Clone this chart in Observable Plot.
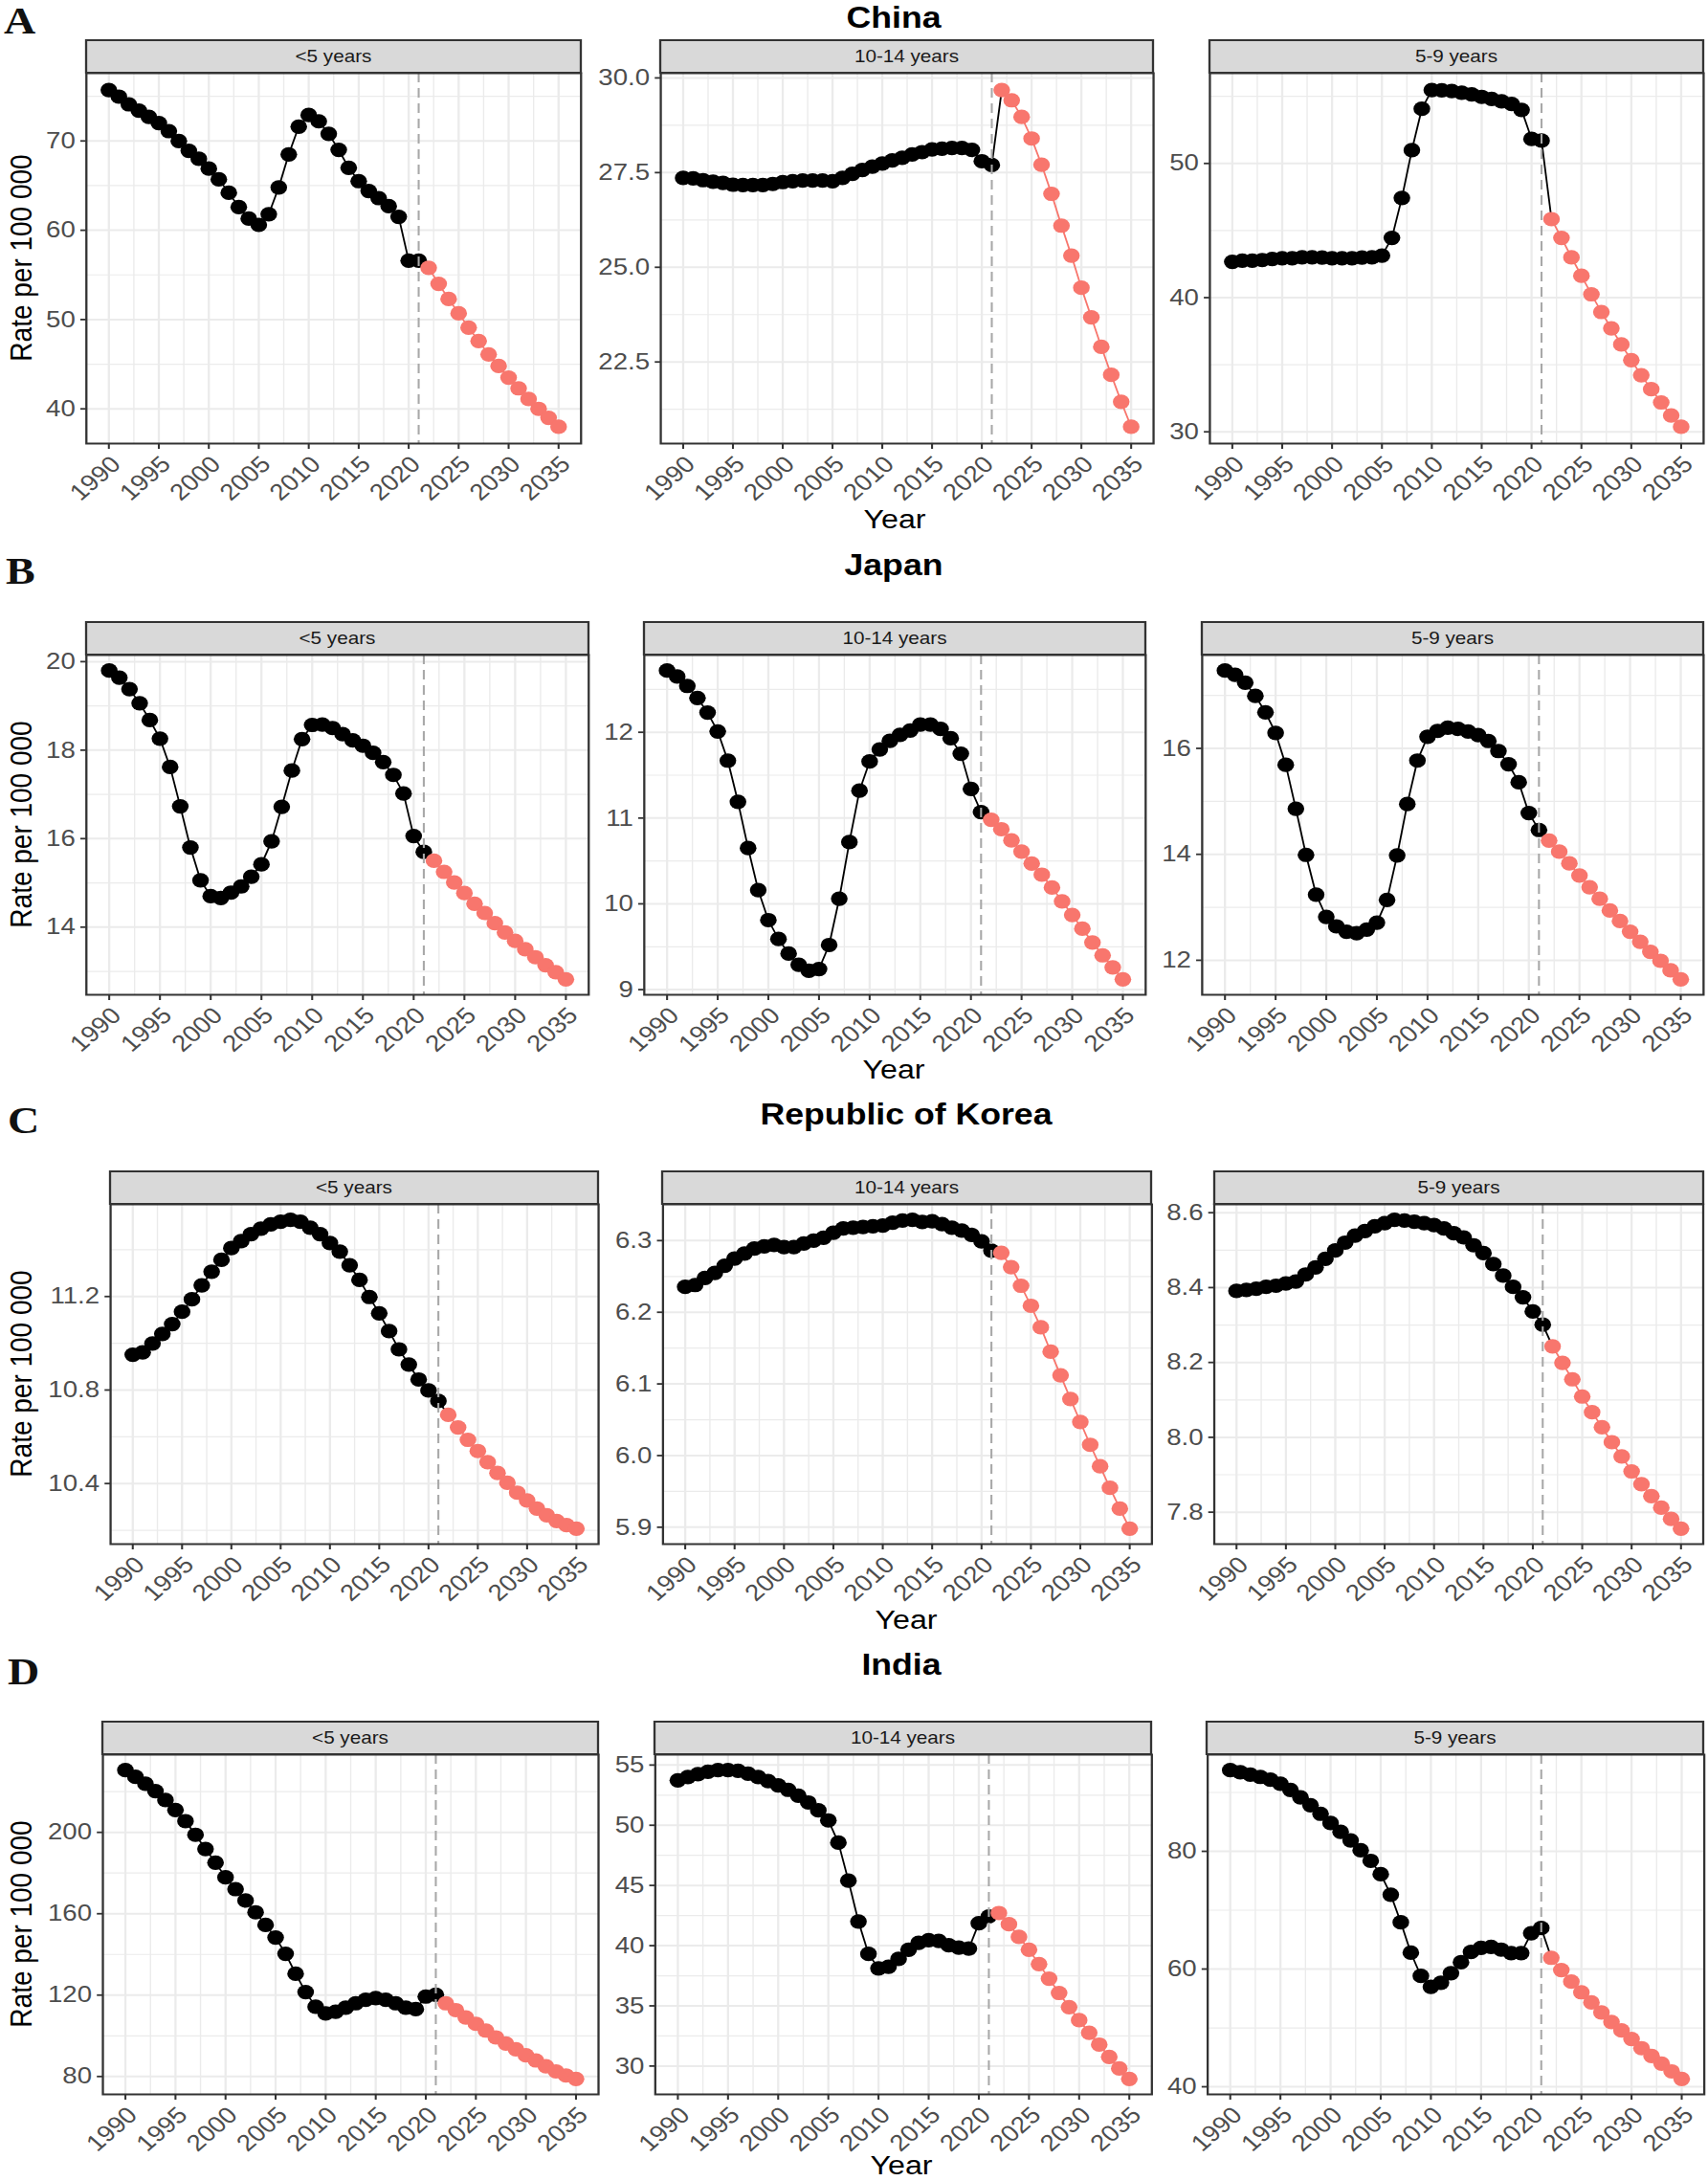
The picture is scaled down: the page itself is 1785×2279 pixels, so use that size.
<!DOCTYPE html>
<html><head><meta charset="utf-8">
<script src="https://cdn.jsdelivr.net/npm/d3@7"></script>
<script src="https://cdn.jsdelivr.net/npm/@observablehq/plot@0.6"></script>
<style>
html,body{margin:0;padding:0;background:#fff;}
body{width:1785px;height:2279px;overflow:hidden;position:relative;}
#root{position:absolute;left:0;top:0;width:1553px;height:2279px;transform:scaleX(1.15);transform-origin:0 0;font-family:"Liberation Sans",Arial,sans-serif;}
.panel{position:absolute;}
#overlay{position:absolute;left:0;top:0;pointer-events:none;}
</style>
</head><body>
<div id="root"></div>
<script>
// ---------- data ----------
const years = [1990,1991,1992,1993,1994,1995,1996,1997,1998,1999,2000,2001,2002,2003,2004,2005,2006,2007,2008,2009,2010,2011,2012,2013,2014,2015,2016,2017,2018,2019,2020,2021,2022,2023,2024,2025,2026,2027,2028,2029,2030,2031,2032,2033,2034,2035];
const lastObservedYear = 2021;
const countries = ["China","Japan","Republic of Korea","India"];
const panelLetters = ["A","B","C","D"];
const ageGroups = ["<5 years","10-14 years","5-9 years"];
const xTicks = [1990,1995,2000,2005,2010,2015,2020,2025,2030,2035];
const xMinor = [1992.5,1997.5,2002.5,2007.5,2012.5,2017.5,2022.5,2027.5,2032.5];

const chinaU5 = [75.7,74.96,74.1,73.4,72.7,72.0,71.1,70.0,68.9,68.0,66.9,65.7,64.2,62.6,61.3,60.6,61.8,64.8,68.5,71.6,72.9,72.2,70.8,69.0,67.0,65.5,64.4,63.6,62.7,61.5,56.6,56.6,55.8,54.0,52.3,50.7,49.1,47.6,46.1,44.8,43.5,42.3,41.1,40.0,39.0,38.0];
const china10_14 = [27.36,27.35,27.30,27.26,27.23,27.18,27.17,27.17,27.17,27.20,27.25,27.27,27.29,27.29,27.29,27.27,27.36,27.47,27.57,27.66,27.74,27.82,27.89,27.98,28.04,28.11,28.13,28.15,28.15,28.10,27.80,27.70,29.68,29.41,28.97,28.40,27.71,26.94,26.10,25.31,24.46,23.68,22.90,22.16,21.45,20.79];
const china5_9 = [42.67,42.75,42.75,42.80,42.88,42.93,42.93,43.0,43.0,42.98,42.93,42.93,42.93,42.98,43.0,43.13,44.45,47.43,50.99,54.07,55.47,55.45,55.39,55.27,55.14,54.96,54.81,54.63,54.43,53.99,51.83,51.70,45.85,44.45,43.00,41.63,40.25,38.93,37.71,36.51,35.34,34.22,33.18,32.19,31.22,30.38];
const japanU5 = [19.80,19.64,19.38,19.06,18.68,18.26,17.62,16.73,15.80,15.06,14.70,14.66,14.78,14.92,15.14,15.42,15.94,16.72,17.54,18.25,18.57,18.58,18.50,18.36,18.22,18.10,17.94,17.73,17.44,17.02,16.06,15.70,15.50,15.25,15.01,14.77,14.53,14.32,14.09,13.88,13.69,13.50,13.32,13.14,12.98,12.82];
const japan10_14 = [12.72,12.65,12.54,12.40,12.23,12.01,11.67,11.19,10.65,10.16,9.81,9.59,9.42,9.29,9.22,9.24,9.52,10.06,10.72,11.32,11.66,11.80,11.90,11.97,12.02,12.09,12.09,12.04,11.93,11.75,11.34,11.07,10.98,10.87,10.74,10.61,10.47,10.34,10.19,10.03,9.87,9.71,9.55,9.40,9.26,9.12];
const japan5_9 = [17.47,17.39,17.24,16.99,16.68,16.29,15.69,14.86,13.99,13.24,12.82,12.64,12.54,12.51,12.58,12.71,13.14,13.98,14.95,15.77,16.22,16.33,16.39,16.37,16.32,16.25,16.14,15.95,15.70,15.36,14.78,14.46,14.26,14.05,13.83,13.60,13.38,13.16,12.94,12.74,12.54,12.35,12.16,11.99,11.81,11.64];
const koreaU5 = [10.951,10.961,10.999,11.040,11.082,11.135,11.188,11.248,11.306,11.357,11.407,11.437,11.467,11.490,11.509,11.520,11.528,11.520,11.494,11.467,11.429,11.392,11.334,11.271,11.198,11.128,11.052,10.974,10.909,10.845,10.798,10.753,10.694,10.640,10.587,10.539,10.491,10.445,10.403,10.361,10.328,10.293,10.264,10.240,10.222,10.207];
const korea10_14 = [6.2355,6.238,6.248,6.255,6.265,6.275,6.282,6.289,6.292,6.294,6.291,6.291,6.296,6.300,6.304,6.311,6.317,6.318,6.319,6.320,6.321,6.325,6.328,6.329,6.326,6.327,6.323,6.318,6.314,6.308,6.299,6.286,6.283,6.263,6.237,6.209,6.179,6.145,6.112,6.079,6.047,6.015,5.985,5.955,5.926,5.898];
const korea5_9 = [8.391,8.394,8.397,8.402,8.405,8.411,8.416,8.435,8.454,8.477,8.499,8.520,8.539,8.551,8.564,8.572,8.581,8.579,8.576,8.572,8.567,8.558,8.545,8.534,8.513,8.492,8.463,8.432,8.402,8.374,8.336,8.301,8.243,8.199,8.155,8.109,8.067,8.027,7.987,7.949,7.909,7.875,7.843,7.812,7.782,7.756];
const indiaU5 = [230.6,227.3,223.9,220.3,215.9,211.0,205.5,198.8,191.8,185.1,177.9,172.1,166.5,160.7,154.5,148.3,140.3,130.5,121.5,114.3,111.0,111.8,113.8,116.0,117.7,118.5,117.7,116.0,113.8,113.1,119.3,120.2,116.0,112.6,109.0,105.9,102.6,99.2,96.2,93.4,90.4,87.9,85.0,82.5,80.5,78.8];
const india10_14 = [53.73,54.01,54.24,54.44,54.58,54.58,54.52,54.29,54.01,53.67,53.31,52.94,52.46,51.89,51.24,50.40,48.56,45.40,42.01,39.32,38.11,38.25,38.90,39.66,40.23,40.45,40.40,40.03,39.83,39.75,41.86,42.43,42.71,41.78,40.73,39.66,38.47,37.26,36.07,34.89,33.81,32.77,31.78,30.76,29.80,28.93];
const india5_9 = [93.80,93.45,93.04,92.64,92.17,91.48,90.43,89.16,87.83,86.38,84.81,83.30,81.86,80.17,78.38,76.12,72.64,67.94,62.78,58.84,56.99,57.68,59.30,61.16,62.90,63.59,63.77,63.30,62.72,62.72,66.09,66.96,61.91,59.83,57.86,56.06,54.32,52.64,51.01,49.57,48.12,46.55,45.22,43.94,42.61,41.33];

const series = [
  [chinaU5, china10_14, china5_9],
  [japanU5, japan10_14, japan5_9],
  [koreaU5, korea10_14, korea5_9],
  [indiaU5, india10_14, india5_9]
];
const yTicks = [
  [[40,50,60,70],[22.5,25.0,27.5,30.0],[30,40,50]],
  [[14,16,18,20],[9,10,11,12],[12,14,16]],
  [[10.4,10.8,11.2],[5.9,6.0,6.1,6.2,6.3],[7.8,8.0,8.2,8.4,8.6]],
  [[80,120,160,200],[30,35,40,45,50,55],[40,60,80]]
];
const yMinor = [
  [[45,55,65,75],[21.25,23.75,26.25,28.75],[35,45,55]],
  [[13,15,17,19],[9.5,10.5,11.5,12.5],[13,15,17]],
  [[10.2,10.6,11.0,11.4],[5.95,6.05,6.15,6.25,6.35],[7.9,8.1,8.3,8.5]],
  [[100,140,180,220],[32.5,37.5,42.5,47.5,52.5],[50,70,90]]
];
const yFormats = [["d",".1f","d"],["d","d","d"],[".1f",".1f",".1f"],["d","d","d"]];

// ---------- layout (page pixels) ----------
const SX = 1.15;
const rowLayout = [
  {stripTop:42,  top:76,   bottom:463,  titleX:934, titleY:29,   letterX:4, letterY:35,   yearX:935, yearY:552},
  {stripTop:650, top:684,  bottom:1039, titleX:934, titleY:601,  letterX:6, letterY:610,  yearX:934, yearY:1127},
  {stripTop:1224,top:1258, bottom:1613, titleX:947, titleY:1175, letterX:8, letterY:1184, yearX:947, yearY:1702},
  {stripTop:1799,top:1833, bottom:2188, titleX:942, titleY:1750, letterX:8, letterY:1760, yearX:942, yearY:2272}
];
const colLayout = [
  [[90,607],[690,1205],[1264,1780]],
  [[90,615],[673,1197],[1256,1780]],
  [[115,625],[692,1203],[1269,1780]],
  [[107,625],[684,1203],[1261,1780]]
];

const root = document.getElementById("root");
const mL = 80, mR = 20, mT = 10, mB = 90;

rowLayout.forEach((R, ri) => {
  for (let ci = 0; ci < 3; ci++) {
    const [L, Rt] = colLayout[ri][ci];
    const li = L / SX, rr = Rt / SX;
    const w = rr - li + mL + mR;
    const h = R.bottom - R.top + mT + mB;
    const vals = series[ri][ci];
    const data = years.map((y, i) => ({year: y, value: vals[i]}));
    const hist = data.filter(d => d.year <= lastObservedYear);
    const histLine = data.filter(d => d.year <= lastObservedYear + 1);
    const pred = data.filter(d => d.year > lastObservedYear);
    const [mn, mx] = d3.extent(vals);
    const pad = (mx - mn) * 0.05;
    const fmt = d3.format(yFormats[ri][ci]);
    const chart = Plot.plot({
      width: w, height: h,
      marginLeft: mL, marginRight: mR, marginTop: mT, marginBottom: mB,
      style: {background: "transparent", overflow: "visible", fontFamily: "Liberation Sans, Arial, sans-serif"},
      x: {domain: [1987.75, 2037.25], axis: null},
      y: {domain: [mn - pad, mx + pad], axis: null},
      marks: [
        Plot.ruleX(xMinor, {stroke: "#ebebeb", strokeWidth: 1.2}),
        Plot.ruleY(yMinor[ri][ci], {stroke: "#ebebeb", strokeWidth: 1.2}),
        Plot.ruleX(xTicks, {stroke: "#ebebeb", strokeWidth: 2}),
        Plot.ruleY(yTicks[ri][ci], {stroke: "#ebebeb", strokeWidth: 2}),
        Plot.line(histLine, {x: "year", y: "value", stroke: "#000", strokeWidth: 1.6}),
        Plot.line(pred, {x: "year", y: "value", stroke: "#F8766D", strokeWidth: 1.6}),
        Plot.dot(hist, {x: "year", y: "value", fill: "#000", r: 7.6}),
        Plot.dot(pred, {x: "year", y: "value", fill: "#F8766D", r: 7.6}),
        Plot.ruleX([lastObservedYear], {stroke: "#a8a8a8", strokeWidth: 1.8, strokeDasharray: "10,6"}),
        Plot.frame({stroke: "#333", strokeWidth: 2}),
        Plot.axisX(xTicks, {tickFormat: d => String(d), tickRotate: -45, textAnchor: "end", lineAnchor: "top",
          tickSize: 6, tickPadding: 5, stroke: "#333", strokeWidth: 1.8, fill: "#4d4d4d", fontSize: 24, label: null}),
        Plot.axisY(yTicks[ri][ci], {tickFormat: fmt, tickSize: 5, tickPadding: 5, stroke: "#333", strokeWidth: 1.8,
          fill: "#4d4d4d", fontSize: 24, label: null})
      ]
    });
    const div = document.createElement("div");
    div.className = "panel";
    div.style.left = (li - mL) + "px";
    div.style.top = (R.top - mT) + "px";
    div.style.width = w + "px";
    div.appendChild(chart);
    root.appendChild(div);
  }
});

// ---------- overlay: strips, titles, labels ----------
const svg = d3.select(root).append("svg").attr("id", "overlay")
  .attr("width", 1785 / SX).attr("height", 2279)
  .style("font-family", "Liberation Sans, Arial, sans-serif");

rowLayout.forEach((R, ri) => {
  for (let ci = 0; ci < 3; ci++) {
    const [L, Rt] = colLayout[ri][ci];
    const li = L / SX, rr = Rt / SX;
    svg.append("rect").attr("x", li).attr("y", R.stripTop).attr("width", rr - li).attr("height", R.top - R.stripTop)
      .attr("fill", "#d9d9d9").attr("stroke", "#333").attr("stroke-width", 2);
    svg.append("text").attr("x", (li + rr) / 2).attr("y", (R.stripTop + R.top) / 2).attr("dy", "0.35em")
      .attr("text-anchor", "middle").attr("font-size", 18).attr("fill", "#1a1a1a").text(ageGroups[ci]);
  }
  svg.append("text").attr("x", R.titleX / SX).attr("y", R.titleY).attr("text-anchor", "middle")
    .attr("font-size", 31).attr("font-weight", "bold").attr("fill", "#000").text(countries[ri]);
  svg.append("text").attr("x", R.letterX / SX).attr("y", R.letterY)
    .attr("font-family", "Liberation Serif, Times New Roman, serif").attr("font-size", 40).attr("font-weight", "bold")
    .attr("fill", "#111").text(panelLetters[ri]);
  svg.append("text").attr("x", R.yearX / SX).attr("y", R.yearY).attr("text-anchor", "middle")
    .attr("font-size", 28).attr("fill", "#000").text("Year");
  const cy = (R.top + R.bottom) / 2;
  svg.append("text").attr("transform", `translate(${22 / SX},${cy}) rotate(-90)`).attr("dy", "0.35em")
    .attr("text-anchor", "middle").attr("font-size", 28).attr("fill", "#000").text("Rate per 100 000");
});
</script>
</body></html>
